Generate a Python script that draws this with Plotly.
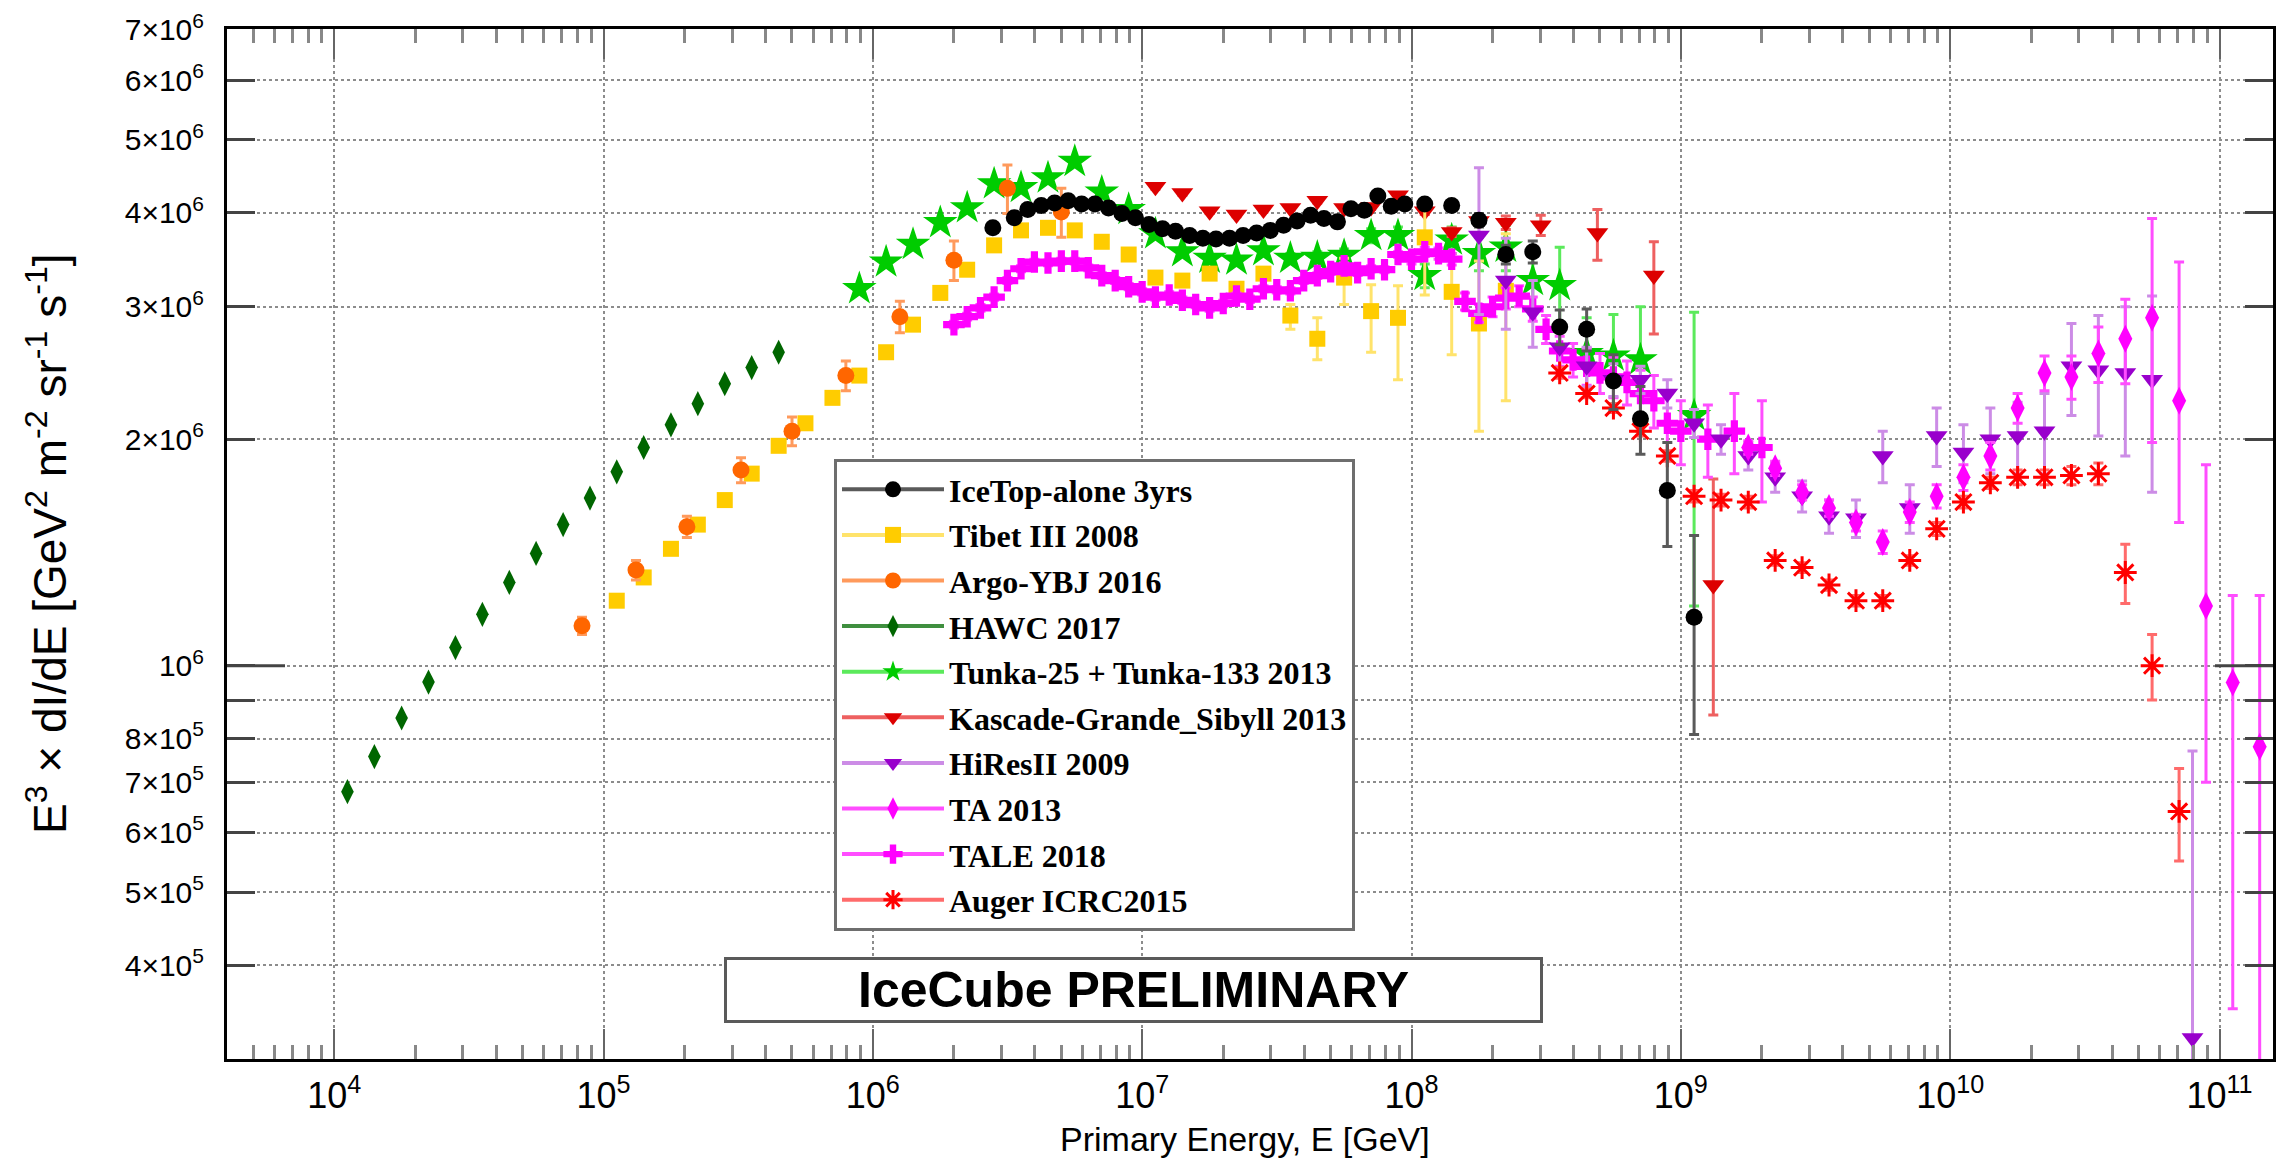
import math
import plotly.graph_objects as go

# ---------------- data: E [GeV], flux = E^3 dI/dE [GeV^2 m^-2 sr^-1 s^-1] ----------------
icetop_E = [2.79e6, 3.35e6, 3.76e6, 4.22e6, 4.73e6, 5.31e6, 5.96e6, 6.68e6, 7.50e6, 8.41e6, 9.44e6,
            1.06e7, 1.19e7, 1.33e7, 1.50e7, 1.68e7, 1.88e7, 2.11e7, 2.37e7, 2.66e7, 2.99e7,
            3.35e7, 3.76e7, 4.22e7, 4.73e7, 5.31e7, 5.96e7, 6.68e7, 7.50e7, 8.41e7, 9.44e7,
            1.12e8, 1.41e8, 1.78e8, 2.24e8, 2.82e8, 3.55e8, 4.47e8, 5.62e8, 7.08e8, 8.91e8, 1.12e9]
icetop_F = [3.82e6, 3.94e6, 4.04e6, 4.09e6, 4.12e6, 4.15e6, 4.11e6, 4.11e6, 4.06e6, 3.99e6, 3.94e6,
            3.86e6, 3.81e6, 3.78e6, 3.73e6, 3.70e6, 3.69e6, 3.70e6, 3.73e6, 3.76e6, 3.79e6,
            3.85e6, 3.90e6, 3.97e6, 3.93e6, 3.89e6, 4.05e6, 4.03e6, 4.21e6, 4.08e6, 4.11e6,
            4.11e6, 4.09e6, 3.91e6, 3.52e6, 3.55e6, 2.82e6, 2.80e6, 2.39e6, 2.13e6, 1.71e6, 1.16e6]
icetop_err_up = [0.02e6, 0.02e6, 0.02e6, 0.02e6, 0.02e6, 0.02e6, 0.02e6, 0.02e6, 0.02e6, 0.02e6, 0.02e6,
                 0.02e6, 0.02e6, 0.02e6, 0.02e6, 0.02e6, 0.02e6, 0.02e6, 0.02e6, 0.02e6, 0.02e6,
                 0.02e6, 0.02e6, 0.03e6, 0.03e6, 0.03e6, 0.03e6, 0.03e6, 0.03e6, 0.04e6, 0.04e6,
                 0.05e6, 0.06e6, 0.08e6, 0.10e6, 0.12e6, 0.15e6, 0.18e6, 0.20e6, 0.22e6, 0.27e6, 0.33e6]
icetop_err_dn = [0.02e6, 0.02e6, 0.02e6, 0.02e6, 0.02e6, 0.02e6, 0.02e6, 0.02e6, 0.02e6, 0.02e6, 0.02e6,
                 0.02e6, 0.02e6, 0.02e6, 0.02e6, 0.02e6, 0.02e6, 0.02e6, 0.02e6, 0.02e6, 0.02e6,
                 0.02e6, 0.02e6, 0.03e6, 0.03e6, 0.03e6, 0.03e6, 0.03e6, 0.03e6, 0.04e6, 0.04e6,
                 0.05e6, 0.06e6, 0.08e6, 0.10e6, 0.12e6, 0.15e6, 0.18e6, 0.20e6, 0.22e6, 0.27e6, 0.35e6]

tibet_E = [1.12e5, 1.41e5, 1.78e5, 2.24e5, 2.82e5, 3.55e5, 4.47e5, 5.62e5, 7.08e5, 8.91e5,
           1.12e6, 1.41e6, 1.78e6, 2.24e6, 2.82e6, 3.55e6, 4.47e6, 5.62e6, 7.08e6, 8.91e6,
           1.12e7, 1.41e7, 1.78e7, 2.24e7, 2.82e7, 3.55e7, 4.47e7, 5.62e7, 7.08e7, 8.91e7,
           1.12e8, 1.41e8, 1.78e8, 2.24e8]
tibet_F = [1.22e6, 1.31e6, 1.43e6, 1.54e6, 1.66e6, 1.80e6, 1.96e6, 2.10e6, 2.27e6, 2.43e6,
           2.61e6, 2.84e6, 3.13e6, 3.36e6, 3.62e6, 3.79e6, 3.82e6, 3.79e6, 3.66e6, 3.52e6,
           3.28e6, 3.25e6, 3.32e6, 3.17e6, 3.32e6, 2.92e6, 2.72e6, 3.28e6, 2.96e6, 2.90e6,
           3.71e6, 3.14e6, 2.85e6, 3.15e6]
tibet_err_up = [0, 0, 0, 0, 0, 0, 0, 0, 0, 0,
                0.01e6, 0.01e6, 0.01e6, 0.01e6, 0.01e6, 0.01e6, 0.01e6, 0.02e6, 0.02e6, 0.02e6,
                0.03e6, 0.03e6, 0.04e6, 0.05e6, 0.06e6, 0.10e6, 0.18e6, 0.20e6, 0.25e6, 0.30e6,
                0.35e6, 0.35e6, 0.60e6, 0.60e6]
tibet_err_dn = [0, 0, 0, 0, 0, 0, 0, 0, 0, 0,
                0.01e6, 0.01e6, 0.01e6, 0.01e6, 0.01e6, 0.01e6, 0.01e6, 0.02e6, 0.02e6, 0.02e6,
                0.03e6, 0.03e6, 0.04e6, 0.05e6, 0.06e6, 0.12e6, 0.17e6, 0.26e6, 0.35e6, 0.50e6,
                0.60e6, 0.55e6, 0.80e6, 0.90e6]

argo_E = [8.32e4, 1.32e5, 2.04e5, 3.24e5, 5.01e5, 7.94e5, 1.26e6, 2.00e6, 3.16e6, 5.01e6]
argo_F = [1.13e6, 1.34e6, 1.53e6, 1.82e6, 2.05e6, 2.43e6, 2.91e6, 3.46e6, 4.31e6, 4.01e6]
argo_err = [0.03e6, 0.04e6, 0.05e6, 0.07e6, 0.09e6, 0.11e6, 0.14e6, 0.21e6, 0.32e6, 0.30e6]

hawc_E = [1.12e4, 1.41e4, 1.78e4, 2.24e4, 2.82e4, 3.55e4, 4.47e4, 5.62e4, 7.08e4, 8.91e4,
          1.12e5, 1.41e5, 1.78e5, 2.24e5, 2.82e5, 3.55e5, 4.47e5]
hawc_F = [6.80e5, 7.57e5, 8.52e5, 9.51e5, 1.057e6, 1.17e6, 1.29e6, 1.41e6, 1.54e6, 1.67e6,
          1.81e6, 1.95e6, 2.09e6, 2.23e6, 2.37e6, 2.49e6, 2.61e6]

tunka_E = [8.91e5, 1.12e6, 1.41e6, 1.78e6, 2.24e6, 2.82e6, 3.55e6, 4.47e6, 5.62e6, 7.08e6, 8.91e6,
           1.12e7, 1.41e7, 1.78e7, 2.24e7, 2.82e7, 3.55e7, 4.47e7, 5.62e7, 7.08e7, 8.91e7,
           1.12e8, 1.41e8, 1.78e8, 2.24e8, 2.82e8, 3.55e8, 4.47e8, 5.62e8, 7.08e8, 1.12e9]
tunka_F = [3.17e6, 3.44e6, 3.63e6, 3.88e6, 4.06e6, 4.37e6, 4.32e6, 4.45e6, 4.68e6, 4.26e6, 4.04e6,
           3.75e6, 3.55e6, 3.48e6, 3.46e6, 3.56e6, 3.48e6, 3.49e6, 3.51e6, 3.73e6, 3.73e6,
           3.30e6, 3.68e6, 3.53e6, 3.60e6, 3.25e6, 3.20e6, 2.60e6, 2.58e6, 2.55e6, 2.15e6]
tunka_err_up = [0.03e6, 0.03e6, 0.03e6, 0.03e6, 0.03e6, 0.03e6, 0.03e6, 0.03e6, 0.04e6, 0.04e6, 0.04e6,
                0.04e6, 0.04e6, 0.04e6, 0.04e6, 0.05e6, 0.05e6, 0.06e6, 0.07e6, 0.08e6, 0.10e6,
                0.12e6, 0.15e6, 0.18e6, 0.25e6, 0.30e6, 0.40e6, 0.30e6, 0.35e6, 0.45e6, 0.80e6]
tunka_err_dn = [0.03e6, 0.03e6, 0.03e6, 0.03e6, 0.03e6, 0.03e6, 0.03e6, 0.03e6, 0.04e6, 0.04e6, 0.04e6,
                0.04e6, 0.04e6, 0.04e6, 0.04e6, 0.05e6, 0.05e6, 0.06e6, 0.07e6, 0.08e6, 0.10e6,
                0.12e6, 0.15e6, 0.18e6, 0.25e6, 0.30e6, 0.40e6, 0.30e6, 0.35e6, 0.50e6, 0.95e6]

kg_E = [1.12e7, 1.41e7, 1.78e7, 2.24e7, 2.82e7, 3.55e7, 4.47e7, 5.62e7, 7.08e7, 8.91e7,
        1.12e8, 1.41e8, 1.78e8, 2.24e8, 3.02e8, 4.90e8, 7.94e8, 1.32e9]
kg_F = [4.33e6, 4.25e6, 4.02e6, 3.98e6, 4.04e6, 4.06e6, 4.15e6, 4.06e6, 4.07e6, 4.22e6,
        4.02e6, 3.77e6, 3.90e6, 3.88e6, 3.85e6, 3.76e6, 3.30e6, 1.28e6]
kg_err_up = [0.03e6, 0.03e6, 0.03e6, 0.03e6, 0.03e6, 0.03e6, 0.03e6, 0.03e6, 0.03e6, 0.03e6,
             0.04e6, 0.05e6, 0.06e6, 0.08e6, 0.12e6, 0.28e6, 0.36e6, 0.49e6]
kg_err_dn = [0.03e6, 0.03e6, 0.03e6, 0.03e6, 0.03e6, 0.03e6, 0.03e6, 0.03e6, 0.03e6, 0.03e6,
             0.04e6, 0.05e6, 0.06e6, 0.08e6, 0.12e6, 0.30e6, 0.54e6, 0.42e6]

hires_E = [1.78e8, 2.24e8, 2.82e8, 3.55e8, 4.47e8, 5.62e8, 7.08e8, 8.91e8, 1.12e9, 1.41e9,
           1.78e9, 2.24e9, 2.82e9, 3.55e9, 4.47e9, 5.62e9, 7.08e9, 8.91e9, 1.12e10, 1.41e10,
           1.78e10, 2.24e10, 2.82e10, 3.55e10, 4.47e10, 5.62e10, 7.94e10]
hires_F = [3.73e6, 3.25e6, 2.95e6, 2.65e6, 2.50e6, 2.40e6, 2.40e6, 2.30e6, 2.10e6, 2.00e6,
           1.90e6, 1.78e6, 1.68e6, 1.58e6, 1.57e6, 1.90e6, 1.62e6, 2.02e6, 1.92e6, 2.00e6,
           2.02e6, 2.05e6, 2.50e6, 2.47e6, 2.45e6, 2.40e6, 3.2e5]
hires_err_up = [0.86e6, 0.45e6, 0.30e6, 0.20e6, 0.15e6, 0.12e6, 0.10e6, 0.10e6, 0.09e6, 0.09e6,
                0.08e6, 0.08e6, 0.08e6, 0.08e6, 0.09e6, 0.15e6, 0.12e6, 0.18e6, 0.17e6, 0.20e6,
                0.22e6, 0.25e6, 0.35e6, 0.45e6, 0.55e6, 0.70e6, 0.45e6]
hires_err_dn = [0.80e6, 0.45e6, 0.30e6, 0.20e6, 0.15e6, 0.12e6, 0.10e6, 0.10e6, 0.09e6, 0.09e6,
                0.08e6, 0.08e6, 0.08e6, 0.08e6, 0.09e6, 0.15e6, 0.12e6, 0.18e6, 0.17e6, 0.20e6,
                0.22e6, 0.25e6, 0.35e6, 0.45e6, 0.55e6, 0.70e6, 0.30e6]

ta_E = [1.78e9, 2.24e9, 2.82e9, 3.55e9, 4.47e9, 5.62e9, 7.08e9, 8.91e9, 1.12e10, 1.41e10,
        1.78e10, 2.24e10, 2.82e10, 3.55e10, 4.47e10, 5.62e10, 7.08e10, 8.91e10, 1.12e11, 1.41e11]
ta_F = [1.95e6, 1.83e6, 1.70e6, 1.62e6, 1.55e6, 1.46e6, 1.60e6, 1.68e6, 1.78e6, 1.90e6,
        2.20e6, 2.45e6, 2.42e6, 2.60e6, 2.72e6, 2.90e6, 2.25e6, 1.20e6, 9.5e5, 7.8e5]
ta_err_up = [0.04e6, 0.04e6, 0.04e6, 0.04e6, 0.04e6, 0.05e6, 0.05e6, 0.06e6, 0.07e6, 0.08e6,
             0.10e6, 0.13e6, 0.16e6, 0.22e6, 0.35e6, 1.03e6, 1.19e6, 0.65e6, 0.29e6, 0.46e6]
ta_err_dn = [0.04e6, 0.04e6, 0.04e6, 0.04e6, 0.04e6, 0.05e6, 0.05e6, 0.06e6, 0.07e6, 0.08e6,
             0.10e6, 0.13e6, 0.16e6, 0.22e6, 0.35e6, 0.92e6, 0.70e6, 0.50e6, 0.60e6, 0.60e6]

tale_E = [2.00e6, 2.24e6, 2.51e6, 2.82e6, 3.16e6, 3.55e6, 3.98e6, 4.47e6, 5.01e6, 5.62e6,
          6.31e6, 7.08e6, 7.94e6, 8.91e6, 1.00e7, 1.12e7, 1.26e7, 1.41e7, 1.58e7, 1.78e7,
          2.00e7, 2.24e7, 2.51e7, 2.82e7, 3.16e7, 3.55e7, 3.98e7, 4.47e7, 5.01e7, 5.62e7,
          6.31e7, 7.08e7, 7.94e7, 8.91e7, 1.00e8, 1.12e8, 1.26e8, 1.41e8, 1.58e8, 1.78e8,
          2.00e8, 2.24e8, 2.51e8, 2.82e8, 3.16e8, 3.55e8, 3.98e8, 4.47e8, 5.01e8, 5.62e8,
          6.31e8, 7.08e8, 7.94e8, 8.91e8, 1.00e9, 1.26e9, 1.58e9, 2.00e9]
tale_F = [2.84e6, 2.91e6, 2.99e6, 3.09e6, 3.25e6, 3.37e6, 3.44e6, 3.43e6, 3.45e6, 3.45e6,
          3.38e6, 3.30e6, 3.25e6, 3.19e6, 3.14e6, 3.09e6, 3.11e6, 3.06e6, 3.02e6, 2.99e6,
          3.03e6, 3.10e6, 3.07e6, 3.17e6, 3.16e6, 3.15e6, 3.25e6, 3.30e6, 3.34e6, 3.40e6,
          3.33e6, 3.37e6, 3.36e6, 3.52e6, 3.47e6, 3.55e6, 3.53e6, 3.47e6, 3.05e6, 2.94e6,
          3.00e6, 3.08e6, 3.10e6, 2.98e6, 2.80e6, 2.62e6, 2.55e6, 2.50e6, 2.45e6, 2.42e6,
          2.38e6, 2.30e6, 2.25e6, 2.10e6, 2.05e6, 2.00e6, 2.05e6, 1.95e6]
tale_err = [0.03e6, 0.03e6, 0.03e6, 0.03e6, 0.03e6, 0.03e6, 0.03e6, 0.03e6, 0.03e6, 0.03e6,
            0.03e6, 0.03e6, 0.03e6, 0.03e6, 0.03e6, 0.03e6, 0.03e6, 0.03e6, 0.03e6, 0.03e6,
            0.03e6, 0.03e6, 0.03e6, 0.03e6, 0.03e6, 0.03e6, 0.03e6, 0.03e6, 0.03e6, 0.03e6,
            0.03e6, 0.03e6, 0.03e6, 0.03e6, 0.05e6, 0.05e6, 0.06e6, 0.06e6, 0.08e6, 0.08e6,
            0.09e6, 0.10e6, 0.10e6, 0.11e6, 0.12e6, 0.12e6, 0.13e6, 0.14e6, 0.15e6, 0.15e6,
            0.16e6, 0.17e6, 0.18e6, 0.20e6, 0.20e6, 0.22e6, 0.25e6, 0.30e6]

auger_E = [3.55e8, 4.47e8, 5.62e8, 7.08e8, 8.91e8, 1.12e9, 1.41e9, 1.78e9, 2.24e9, 2.82e9,
           3.55e9, 4.47e9, 5.62e9, 7.08e9, 8.91e9, 1.12e10, 1.41e10, 1.78e10, 2.24e10, 2.82e10,
           3.55e10, 4.47e10, 5.62e10, 7.08e10]
auger_F = [2.45e6, 2.30e6, 2.20e6, 2.05e6, 1.90e6, 1.68e6, 1.66e6, 1.65e6, 1.38e6, 1.35e6,
           1.28e6, 1.22e6, 1.22e6, 1.38e6, 1.52e6, 1.65e6, 1.75e6, 1.78e6, 1.78e6, 1.79e6,
           1.80e6, 1.33e6, 1.00e6, 6.4e5]
auger_err = [0.04e6, 0.03e6, 0.03e6, 0.03e6, 0.03e6, 0.03e6, 0.03e6, 0.03e6, 0.02e6, 0.02e6,
             0.02e6, 0.02e6, 0.02e6, 0.02e6, 0.03e6, 0.03e6, 0.03e6, 0.04e6, 0.04e6, 0.05e6,
             0.06e6, 0.12e6, 0.10e6, 0.09e6]

# axis ticks
x_tick_vals = [1e4, 1e5, 1e6, 1e7, 1e8, 1e9, 1e10, 1e11]
x_tick_text = ["10<sup>4</sup>", "10<sup>5</sup>", "10<sup>6</sup>", "10<sup>7</sup>",
               "10<sup>8</sup>", "10<sup>9</sup>", "10<sup>10</sup>", "10<sup>11</sup>"]
y_tick_vals = [4e5, 5e5, 6e5, 7e5, 8e5, 9e5, 1e6, 2e6, 3e6, 4e6, 5e6, 6e6, 7e6]
y_tick_text = ["4×10<sup>5</sup>", "5×10<sup>5</sup>", "6×10<sup>5</sup>", "7×10<sup>5</sup>",
               "8×10<sup>5</sup>", "", "10<sup>6</sup>", "2×10<sup>6</sup>", "3×10<sup>6</sup>",
               "4×10<sup>6</sup>", "5×10<sup>6</sup>", "6×10<sup>6</sup>", "7×10<sup>6</sup>"]

# ---------------- styling ----------------
W, H = 2276, 1161
L, R, T, B = 227, 3, 29, 102
PW, PH = W - L - R, H - T - B
X_RANGE = [math.log10(4.0e3), math.log10(1.58e11)]
Y_RANGE = [math.log10(3.0e5), math.log10(7.02e6)]

series = {
    "IceTop-alone 3yrs": dict(E=icetop_E, F=icetop_F, up=icetop_err_up, dn=icetop_err_dn,
                              symbol="circle", color="#000000", size=17, lc="#5a5a5a"),
    "Tibet III 2008": dict(E=tibet_E, F=tibet_F, up=tibet_err_up, dn=tibet_err_dn,
                           symbol="square", color="#FFCC00", size=16, lc="#FFE36B"),
    "Argo-YBJ 2016": dict(E=argo_E, F=argo_F, up=argo_err, dn=argo_err,
                          symbol="circle", color="#FF6600", size=17, lc="#FF9A5C"),
    "HAWC 2017": dict(E=hawc_E, F=hawc_F, up=None, dn=None,
                      symbol="diamond-tall", color="#006600", size=18, lc="#3F8F3F"),
    "Tunka-25 + Tunka-133 2013": dict(E=tunka_E, F=tunka_F, up=tunka_err_up, dn=tunka_err_dn,
                                      symbol="star", color="#00CC00", size=26, lc="#5BEA5B"),
    "Kascade-Grande_Sibyll 2013": dict(E=kg_E, F=kg_F, up=kg_err_up, dn=kg_err_dn,
                                       symbol="triangle-down", color="#DD0000", size=19, lc="#EE6060"),
    "HiResII 2009": dict(E=hires_E, F=hires_F, up=hires_err_up, dn=hires_err_dn,
                         symbol="triangle-down", color="#9900CC", size=19, lc="#CC8CE6"),
    "TA 2013": dict(E=ta_E, F=ta_F, up=ta_err_up, dn=ta_err_dn,
                    symbol="diamond-tall", color="#FF00FF", size=20, lc="#FF4DFF"),
    "TALE 2018": dict(E=tale_E, F=tale_F, up=tale_err, dn=tale_err,
                      symbol="cross", color="#FF00FF", size=18, lc="#FF4DFF"),
    "Auger ICRC2015": dict(E=auger_E, F=auger_F, up=auger_err, dn=auger_err,
                           symbol="asterisk-open", color="#FF0000", size=19, lc="#FF6B6B"),
}
legend_order = ["IceTop-alone 3yrs", "Tibet III 2008", "Argo-YBJ 2016", "HAWC 2017",
                "Tunka-25 + Tunka-133 2013", "Kascade-Grande_Sibyll 2013", "HiResII 2009",
                "TA 2013", "TALE 2018", "Auger ICRC2015"]
draw_order = ["HAWC 2017", "Tunka-25 + Tunka-133 2013", "Kascade-Grande_Sibyll 2013",
              "Tibet III 2008", "Argo-YBJ 2016", "TALE 2018", "HiResII 2009", "TA 2013",
              "Auger ICRC2015", "IceTop-alone 3yrs"]


def marker_for(s):
    m = dict(symbol=s["symbol"], size=s["size"], color=s["color"])
    if s["symbol"] == "asterisk-open":
        m["line"] = dict(color=s["color"], width=3)
    else:
        m["line"] = dict(width=0)
    return m


fig = go.Figure()

# legend-only entries (line + marker like the original key)
for name in legend_order:
    s = series[name]
    fig.add_trace(go.Scatter(
        x=[None], y=[None], mode="lines+markers", name=name, legendgroup=name,
        line=dict(color=s["lc"], width=4), marker=marker_for(s), showlegend=True,
    ))

# data traces
for name in draw_order:
    s = series[name]
    err = None
    if s["up"] is not None:
        err = dict(type="data", symmetric=False, array=s["up"], arrayminus=s["dn"],
                   color=s["lc"], thickness=3, width=5)
    fig.add_trace(go.Scatter(
        x=s["E"], y=s["F"], mode="markers", name=name, legendgroup=name, showlegend=False,
        marker=marker_for(s), error_y=err, cliponaxis=True,
    ))

minor_x = [k * 10 ** n for n in range(3, 12) for k in range(2, 10)]
minor_x = [v for v in minor_x if 4.0e3 <= v <= 1.58e11]

grid = dict(showgrid=True, gridcolor="#8c8c8c", griddash="dot", gridwidth=2)
fig.update_layout(
    width=W, height=H,
    margin=dict(l=L, r=R, t=T, b=B, autoexpand=False),
    paper_bgcolor="white", plot_bgcolor="white",
    xaxis=dict(type="log", range=X_RANGE, showline=True, linecolor="black", linewidth=3,
               mirror="ticks", ticks="inside", ticklen=30, tickwidth=2, tickcolor="#666666",
               tickmode="array", tickvals=x_tick_vals, ticktext=x_tick_text,
               tickfont=dict(family="Liberation Sans Narrow, Liberation Sans, Arial", size=36,
                             color="black"),
               ticklabelstandoff=3, zeroline=False,
               minor=dict(ticks="inside", ticklen=14, tickwidth=3, tickcolor="#888888",
                          tickmode="array", tickvals=minor_x, showgrid=False),
               **grid),
    yaxis=dict(type="log", range=Y_RANGE, showline=True, linecolor="black", linewidth=3,
               mirror="ticks", ticks="inside", ticklen=28, tickwidth=3, tickcolor="#444444",
               tickmode="array", tickvals=y_tick_vals, ticktext=y_tick_text,
               tickfont=dict(family="Liberation Sans, Arial", size=30, color="black"),
               ticklabelstandoff=14, zeroline=False, **grid),
    legend=dict(x=(834 - L) / PW, y=(H - B - 459) / PH, xanchor="left", yanchor="top",
                bgcolor="white", bordercolor="#6e6e6e", borderwidth=3,
                font=dict(family="Liberation Serif, Times New Roman, serif", size=32,
                          color="black", weight="bold"),
                itemwidth=102, tracegroupgap=1, traceorder="grouped"),
    showlegend=True,
)

# longer decade tick at 10^6 on both sides
y1e6 = (6 - Y_RANGE[0]) / (Y_RANGE[1] - Y_RANGE[0])
for x0, x1 in [(0, 58 / PW), (1, 1 - 58 / PW)]:
    fig.add_shape(type="line", xref="paper", yref="paper", x0=x0, x1=x1, y0=y1e6, y1=y1e6,
                  line=dict(color="#444444", width=3))

# axis titles
fig.add_annotation(
    text="E<sup>3</sup> × dI/dE [GeV<sup>2</sup> m<sup>-2</sup> sr<sup>-1</sup> s<sup>-1</sup>]",
    xref="paper", yref="paper", x=(47 - L) / PW, y=0.5, textangle=-90, showarrow=False,
    xanchor="center", yanchor="middle",
    font=dict(family="Liberation Sans, Arial", size=46, color="black"))
fig.add_annotation(
    text="Primary Energy, E [GeV]", xref="paper", yref="paper",
    x=(1245 - L) / PW, y=-(1139 - (H - B)) / PH, showarrow=False,
    xanchor="center", yanchor="middle",
    font=dict(family="Liberation Sans, Arial", size=34, color="black"))

# IceCube PRELIMINARY box
fig.add_annotation(
    text="<b>IceCube PRELIMINARY</b>", xref="paper", yref="paper",
    x=((724 + 1543) / 2 - L) / PW, y=((H - B) - 990) / PH, showarrow=False,
    xanchor="center", yanchor="middle", width=809, height=56,
    bgcolor="white", bordercolor="#5a5a5a", borderwidth=3, borderpad=2,
    font=dict(family="Liberation Sans, Arial", size=50, color="black"))

fig.write_html("out.html", config={"displayModeBar": False})
